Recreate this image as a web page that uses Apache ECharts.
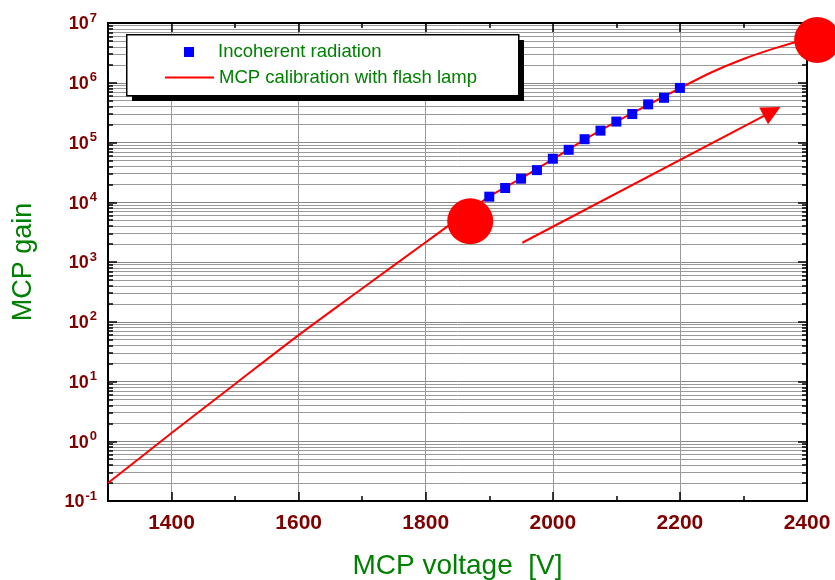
<!DOCTYPE html>
<html><head><meta charset="utf-8">
<script src="https://cdn.jsdelivr.net/npm/echarts@6/dist/echarts.min.js"></script>
<style>html,body{margin:0;padding:0;background:#fff}#c{width:835px;height:580px}</style>
</head><body><div id="c"></div>
<script>
// ---- data ----
const curveV    = [1300, 1400, 1500, 1600, 1700, 1800, 1900, 1950, 2000, 2050, 2100, 2150, 2200, 2250, 2300, 2350, 2400, 2416];
const curveGain = [0.2, 1.37, 9.1, 59.7, 360, 2140, 1.24e4, 2.5e4, 5.25e4, 1.12e5, 2.24e5, 4.27e5, 8.1e5, 1.5e6, 2.5e6, 3.8e6, 5.4e6, 5.8e6];
const incV      = [1900, 1925, 1950, 1975, 2000, 2025, 2050, 2075, 2100, 2125, 2150, 2175, 2200];
const incGain   = [1.24e4, 1.73e4, 2.48e4, 3.45e4, 5.35e4, 7.55e4, 1.135e5, 1.58e5, 2.24e5, 3.0e5, 4.35e5, 5.6e5, 8.2e5];
const markerV    = [1870, 2416];
const markerGain = [4800, 5.2e6];
const arrowFrom = [1952, 2100];
const arrowTo   = [2345, 3.3e5];
const xMajor = [1400, 1600, 1800, 2000, 2200, 2400];
const xMinor = [1300, 1500, 1700, 1900, 2100, 2300];
const yDecades = [0.1, 1, 10, 100, 1e3, 1e4, 1e5, 1e6, 1e7];
const yMinorMult = [2, 3, 4, 5, 6, 7, 8, 9];
const yMinor = [];
yDecades.slice(0, -1).forEach(d => yMinorMult.forEach(m => yMinor.push(+(m * d).toPrecision(3))));

const DARKRED = '#800000', GREEN = '#008000';
const FONT = "'Liberation Sans', Arial, sans-serif";

function xAxisCfg(pos, ticks, len, extra) {
  return Object.assign({
    type: 'value', position: pos, min: 1300, max: 2400, interval: 100,
    axisLine: { show: true, onZero: false, lineStyle: { color: '#000', width: 2 } },
    axisTick: { show: true, inside: true, length: len, customValues: ticks, lineStyle: { color: '#000', width: 1.5 } },
    axisLabel: { show: false },
    splitLine: { show: false }
  }, extra || {});
}
function yAxisCfg(pos, ticks, len, extra) {
  return Object.assign({
    type: 'log', logBase: 10, position: pos, min: 0.1, max: 1e7,
    axisLine: { show: true, onZero: false, lineStyle: { color: '#000', width: 2 } },
    axisTick: { show: true, inside: true, length: len, customValues: ticks, lineStyle: { color: '#000', width: 1.5 } },
    axisLabel: { show: false },
    splitLine: { show: false }
  }, extra || {});
}

const chart = echarts.init(document.getElementById('c'));
chart.setOption({
  backgroundColor: '#fff',
  animation: false,
  grid: { left: 108, right: 28, top: 23, bottom: 79, outerBoundsMode: 'none' },
  xAxis: [
    xAxisCfg('bottom', xMajor, 9, {
      axisLabel: { show: true, customValues: xMajor, margin: 12, formatter: v => String(v),
        color: DARKRED, fontWeight: 'bold', fontSize: 21, fontFamily: FONT },
      splitLine: { show: true, lineStyle: { color: '#999', width: 1 } },
      name: 'MCP voltage  [V]', nameLocation: 'middle', nameGap: 51,
      nameTextStyle: { color: GREEN, fontSize: 28, fontFamily: FONT }
    }),
    xAxisCfg('bottom', xMinor, 5),
    xAxisCfg('top', xMajor, 9),
    xAxisCfg('top', xMinor, 5)
  ],
  yAxis: [
    yAxisCfg('left', yDecades, 9, {
      axisLabel: {
        show: true, customValues: yDecades, margin: 11,
        formatter: v => '{b|10}{s|' + Math.round(Math.log10(v)) + '}',
        rich: {
          b: { color: DARKRED, fontWeight: 'bold', fontSize: 18, fontFamily: FONT, lineHeight: 18, padding: [3, 0, 0, 0] },
          s: { color: DARKRED, fontWeight: 'bold', fontSize: 13, fontFamily: FONT, lineHeight: 13, padding: [0, 0, 10, 1] }
        }
      },
      splitLine: { show: true, lineStyle: { color: '#888', width: 1 } },
      name: 'MCP gain', nameLocation: 'middle', nameGap: 71,
      nameTextStyle: { color: GREEN, fontSize: 27, fontFamily: FONT }
    }),
    yAxisCfg('left', yMinor, 5, { splitLine: { show: true, lineStyle: { color: '#999', width: 1 } } }),
    yAxisCfg('right', yDecades, 9),
    yAxisCfg('right', yMinor, 5)
  ],
  graphic: [{
    type: 'rect', z: 5, left: 132, top: 40,
    shape: { width: 392, height: 61 },
    style: { fill: '#000' }
  }, {
    type: 'rect', z: 6, left: 126, top: 34,
    shape: { width: 392, height: 61 },
    style: { fill: '#fff', stroke: '#000', lineWidth: 1.5 }
  }],
  legend: [{
    z: 10, left: 184, top: 42.5, padding: 0, itemWidth: 10, itemHeight: 10,
    data: ['Incoherent radiation'],
    formatter: '{a|{name}}',
    textStyle: { color: GREEN, fontSize: 18.5, fontFamily: FONT,
      rich: { a: { color: GREEN, fontSize: 18.5, fontFamily: FONT, lineHeight: 20, padding: [0, 0, 0, 19] } } }
  }, {
    z: 10, left: 164, top: 67.5, padding: 0, itemWidth: 49, itemHeight: 14,
    itemStyle: { opacity: 0 },
    lineStyle: { color: '#ff0000', width: 2, opacity: 1 },
    data: ['MCP calibration with flash lamp'],
    textStyle: { color: GREEN, fontSize: 18.5, fontFamily: FONT, lineHeight: 20 }
  }],
  series: [
    {
      name: 'MCP calibration with flash lamp', type: 'line', xAxisIndex: 0, yAxisIndex: 0,
      data: curveV.map((v, i) => [v, curveGain[i]]),
      smooth: 0.3, symbol: 'none', z: 3,
      lineStyle: { color: '#ff0000', width: 2 }, itemStyle: { color: '#ff0000' }
    },
    {
      name: 'Incoherent radiation', type: 'scatter', xAxisIndex: 0, yAxisIndex: 0,
      data: incV.map((v, i) => [v, incGain[i]]),
      symbol: 'rect', symbolSize: 10, z: 4,
      itemStyle: { color: '#0000ff', opacity: 1 }
    },
    {
      name: 'markers', type: 'scatter', xAxisIndex: 0, yAxisIndex: 0, clip: false,
      data: markerV.map((v, i) => [v, markerGain[i]]),
      symbol: 'circle', symbolSize: 46, z: 5,
      itemStyle: { color: '#ff0000', opacity: 1 },
      markLine: {
        silent: true, symbol: ['none', 'triangle'], symbolSize: 19,
        label: { show: false },
        lineStyle: { color: '#ff0000', width: 2, type: 'solid', opacity: 1 },
        itemStyle: { color: '#ff0000', opacity: 1 },
        data: [[{ coord: arrowFrom }, { coord: arrowTo }]]
      }
    }
  ]
});
</script></body></html>
